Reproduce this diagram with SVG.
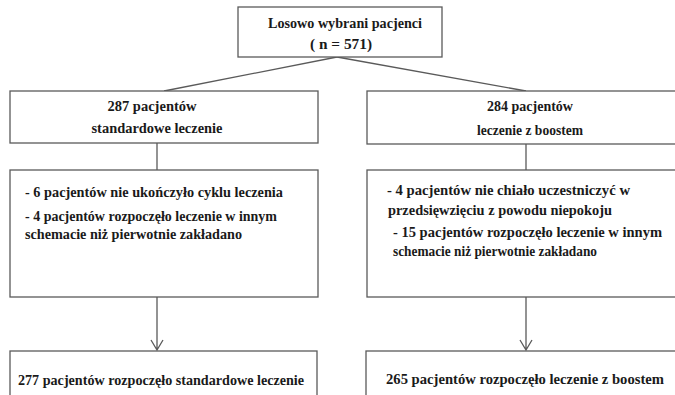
<svg xmlns="http://www.w3.org/2000/svg" width="675" height="395" viewBox="0 0 675 395">
<defs>
<style>
.box{fill:#fff;stroke:#5a5a5a;stroke-width:1.3}
.t{font-family:"Liberation Serif","Times New Roman",serif;font-weight:bold;font-size:14.5px;fill:#1a1a1a}
.c{text-anchor:middle}
.ln{stroke:#5a5a5a;stroke-width:1.3;fill:none}
</style>
</defs>
<rect width="675" height="395" fill="#fff"/>
<g id="connectors">
<line class="ln" x1="337" y1="57" x2="164" y2="91"/>
<line class="ln" x1="337" y1="57" x2="526" y2="91"/>
<line class="ln" x1="157" y1="143" x2="157" y2="170"/>
<line class="ln" x1="526" y1="143" x2="526" y2="170"/>
<path class="ln" d="M157,297 V350 M151,340 L157,350 L163,340"/>
<path class="ln" d="M526,297 V350 M520,340 L526,350 L532,340"/>
</g>
<g id="n0">
<rect class="box" x="238" y="7" width="204" height="50"/>
<text class="t c" x="345" y="28" textLength="154" lengthAdjust="spacingAndGlyphs">Losowo wybrani pacjenci</text>
<text class="t c" x="341" y="49" textLength="62" lengthAdjust="spacingAndGlyphs">( n = 571)</text>
</g>
<g id="n1">
<rect class="box" x="10" y="91" width="308" height="52"/>
<text class="t c" x="152" y="111" textLength="89" lengthAdjust="spacingAndGlyphs">287 pacjentów</text>
<text class="t c" x="157" y="133" textLength="131" lengthAdjust="spacingAndGlyphs">standardowe leczenie</text>
</g>
<g id="n2">
<rect class="box" x="367" y="91" width="330" height="53"/>
<text class="t c" x="530" y="111" textLength="86" lengthAdjust="spacingAndGlyphs">284 pacjentów</text>
<text class="t c" x="530" y="135" textLength="106" lengthAdjust="spacingAndGlyphs">leczenie z boostem</text>
</g>
<g id="n3">
<rect class="box" x="10" y="170" width="308" height="127"/>
<text class="t" x="25" y="197" textLength="258" lengthAdjust="spacingAndGlyphs">- 6 pacjentów nie ukończyło cyklu leczenia</text>
<text class="t" x="25" y="221" textLength="252" lengthAdjust="spacingAndGlyphs">- 4 pacjentów rozpoczęło leczenie w innym</text>
<text class="t" x="25" y="239" textLength="217" lengthAdjust="spacingAndGlyphs">schemacie niż pierwotnie zakładano</text>
</g>
<g id="n4">
<rect class="box" x="367" y="170" width="330" height="127"/>
<text class="t" x="387" y="195" textLength="243" lengthAdjust="spacingAndGlyphs">- 4 pacjentów nie chiało uczestniczyć w</text>
<text class="t" x="388" y="215" textLength="224" lengthAdjust="spacingAndGlyphs">przedsięwzięciu z powodu niepokoju</text>
<text class="t" x="393" y="237" textLength="269" lengthAdjust="spacingAndGlyphs">- 15 pacjentów rozpoczęło leczenie w innym</text>
<text class="t" x="393" y="256" textLength="204" lengthAdjust="spacingAndGlyphs">schemacie  niż pierwotnie zakładano</text>
</g>
<g id="n5">
<rect class="box" x="10" y="351" width="307" height="60"/>
<text class="t" x="18" y="385" textLength="286" lengthAdjust="spacingAndGlyphs">277 pacjentów rozpoczęło standardowe leczenie</text>
</g>
<g id="n6">
<rect class="box" x="366" y="351" width="331" height="60"/>
<text class="t" x="386" y="384" textLength="278" lengthAdjust="spacingAndGlyphs">265 pacjentów rozpoczęło leczenie z boostem</text>
</g>
</svg>
